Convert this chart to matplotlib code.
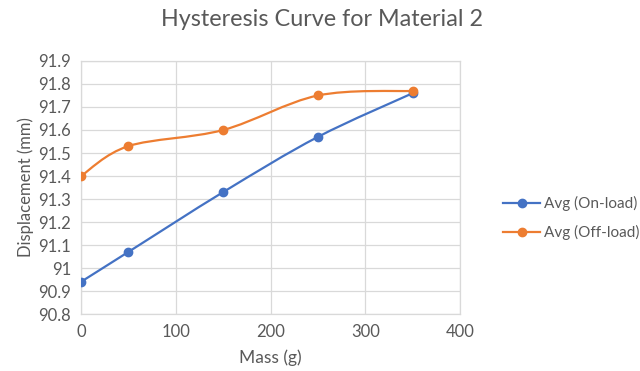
import numpy as np
import matplotlib.pyplot as plt
from matplotlib.path import Path
from matplotlib.patches import PathPatch
from matplotlib.lines import Line2D

plt.rcParams['font.family'] = ['Lato', 'DejaVu Sans']

# data
mass = [0, 50, 150, 250, 350]
on_load = [90.94, 91.07, 91.33, 91.57, 91.76]
off_load = [91.40, 91.53, 91.60, 91.75, 91.77]

BLUE = "#4472C4"
ORANGE = "#ED7D31"
TEXT = "#595959"
GRID = "#D9D9D9"


def smooth_path(xs, ys):
    # Excel-style smoothed line: cubic bezier segments through the points
    pts = np.column_stack([xs, ys]).astype(float)
    ext = np.vstack([pts[0], pts, pts[-1]])
    verts = [pts[0]]
    codes = [Path.MOVETO]
    for i in range(len(pts) - 1):
        p0, p1, p2, p3 = ext[i], ext[i + 1], ext[i + 2], ext[i + 3]
        verts += [p1 + (p2 - p0) / 6, p2 - (p3 - p1) / 6, p2]
        codes += [Path.CURVE4] * 3
    return Path(verts, codes)


fig = plt.figure(figsize=(6.4, 3.71), dpi=100)
ax = fig.add_axes([0.1266, 0.1536, 0.5922, 0.682])

for ys, c in [(on_load, BLUE), (off_load, ORANGE)]:
    ax.add_patch(PathPatch(smooth_path(mass, ys), facecolor="none", edgecolor=c, lw=1.6, zorder=3))
    ax.plot(mass, ys, "o", color=c, markersize=6, zorder=4)

ax.set_xlim(0, 400)
ax.set_ylim(90.8, 91.9)
ax.set_xticks(np.arange(0, 401, 100))
ax.set_yticks(np.arange(90.8, 91.95, 0.1))
ax.set_yticklabels(["90.8", "90.9", "91", "91.1", "91.2", "91.3", "91.4", "91.5", "91.6", "91.7", "91.8", "91.9"])
ax.grid(True, color=GRID, lw=0.9)
ax.set_axisbelow(True)
for s in ax.spines.values():
    s.set_color(GRID)
    s.set_linewidth(0.9)
ax.tick_params(length=0, colors=TEXT, labelsize=12, pad=7)

ax.set_xlabel("Mass (g)", color=TEXT, fontsize=12.5, labelpad=7)
ax.set_ylabel("Displacement (mm)", color=TEXT, fontsize=12, labelpad=3)
fig.suptitle("Hysteresis Curve for Material 2", color=TEXT, fontsize=16.8, x=0.503, y=0.975)

handles = [
    Line2D([], [], color=BLUE, lw=1.6, marker="o", markersize=6),
    Line2D([], [], color=ORANGE, lw=1.6, marker="o", markersize=6),
]
fig.legend(handles, ["Avg (On-load)", "Avg (Off-load)"], loc="center left",
           bbox_to_anchor=(0.786, 0.412), frameon=False, fontsize=11,
           labelcolor=TEXT, handlelength=2.42, handletextpad=0.23, labelspacing=0.95,
           borderpad=0, borderaxespad=0)

fig.savefig("out.png", dpi=100)
